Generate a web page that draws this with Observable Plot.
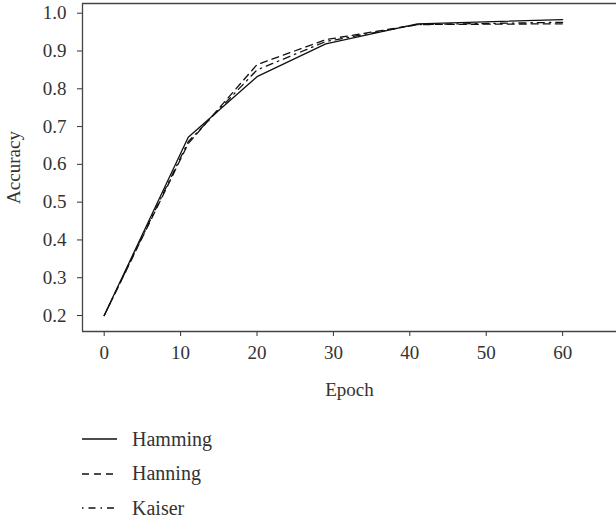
<!DOCTYPE html>
<html>
<head>
<meta charset="utf-8">
<script src="https://cdn.jsdelivr.net/npm/d3@7"></script>
<script src="https://cdn.jsdelivr.net/npm/@observablehq/plot@0.6"></script>
<style>
  html, body { margin: 0; padding: 0; background: #fff; }
  body { width: 616px; height: 523px; overflow: hidden; font-family: "Liberation Serif", "DejaVu Serif", serif; color: #333; }
  #legend { position: relative; margin-left: 82px; margin-top: 14px; }
  .row { display: flex; align-items: center; height: 34.5px; font-size: 20px; }
  .row svg { margin-right: 15px; }
</style>
</head>
<body>
<div id="chart"></div>
<div id="legend"></div>
<script>
const epochs = [0, 11, 20, 29, 41, 60];
const hamming = [0.200, 0.672, 0.832, 0.919, 0.972, 0.983];
const hanning = [0.200, 0.655, 0.864, 0.930, 0.970, 0.972];
const kaiser  = [0.200, 0.660, 0.850, 0.925, 0.970, 0.976];
const seriesNames = ["Hamming", "Hanning", "Kaiser"];
const dashes = ["none", "7,5", "1.5,5,7,5"];
const xTicks = [0, 10, 20, 30, 40, 50, 60];
const yTicks = [0.2, 0.3, 0.4, 0.5, 0.6, 0.7, 0.8, 0.9, 1.0];

const seriesVals = [hamming, hanning, kaiser];
const data = seriesNames.flatMap((s, i) => epochs.map((e, j) => ({series: s, epoch: e, acc: seriesVals[i][j]})));

const ff = "'Liberation Serif', 'DejaVu Serif', serif";
const chart = Plot.plot({
  width: 616,
  height: 408,
  marginLeft: 82,
  marginRight: 0,
  marginTop: 3,
  marginBottom: 77,
  style: {fontFamily: ff, fontSize: "19px", color: "#333", background: "#fff"},
  x: {domain: [-2.84, 67.05], label: null},
  y: {domain: [0.1577, 1.0257], label: null},
  marks: [
    Plot.axisX({ticks: xTicks, tickSize: 5, tickPadding: 9, stroke: "#333", fontSize: 19, label: null}),
    Plot.axisY({ticks: yTicks, tickSize: 5, tickPadding: 11, tickFormat: d3.format(".1f"), stroke: "#333", fontSize: 19, label: null}),
    Plot.ruleY([0.1577], {stroke: "#444", strokeWidth: 1.3}),
    Plot.ruleY([1.0257], {stroke: "#444", strokeWidth: 1.3}),
    Plot.ruleX([-2.84], {stroke: "#444", strokeWidth: 1.3}),
    ...seriesNames.map((s, i) => Plot.line(data.filter(d => d.series === s), {
      x: "epoch", y: "acc", stroke: "#111", strokeWidth: 1.3, strokeDasharray: dashes[i]
    })),
    Plot.text(["Epoch"], {frameAnchor: "bottom", dy: 64, fontSize: 19, fill: "#333", fontFamily: ff}),
    Plot.text(["Accuracy"], {frameAnchor: "left", textAnchor: "middle", dx: -69, rotate: -90, fontSize: 19, fill: "#333", fontFamily: ff})
  ]
});
document.getElementById("chart").appendChild(chart);

const legend = document.getElementById("legend");
seriesNames.forEach((s, i) => {
  const row = document.createElement("div");
  row.className = "row";
  row.innerHTML = `<svg width="35" height="6"><line x1="0" y1="3" x2="35" y2="3" stroke="#111" stroke-width="1.5" stroke-dasharray="${dashes[i]}"/></svg><span>${s}</span>`;
  legend.appendChild(row);
});
</script>
</body>
</html>
